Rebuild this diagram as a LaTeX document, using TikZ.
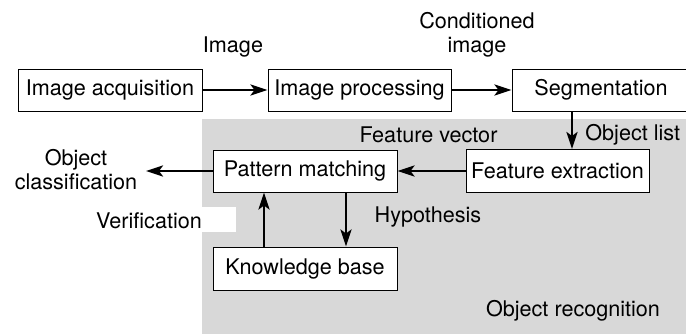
\documentclass[tikz,border=0pt]{standalone}
\usepackage{fontspec}
\setmainfont{TeX Gyre Heros}
\usetikzlibrary{arrows.meta}
\definecolor{greybg}{RGB}{216,216,216}
\begin{document}
\begin{tikzpicture}[x=0.5pt,y=-0.5pt,
  font=\fontsize{10.8}{12}\selectfont,
  box/.style={draw, line width=0.5pt, fill=white, inner sep=0pt, minimum height=21pt},
  arr/.style={line width=1.3pt, -{Stealth[length=8.5pt,width=5.5pt,inset=2pt]}},
  lbl/.style={inner sep=0pt, align=center}]
\useasboundingbox (0,0) rectangle (686,333);
\fill[greybg] (202,119) rectangle (690,340);
\fill[white] (88,207) rectangle (236,232);
\node[box, minimum width=92pt] (acq) at (110,90) {Image acquisition};
\node[box, minimum width=91.5pt] (proc) at (359.5,90) {Image processing};
\node[box, minimum width=89pt] (seg) at (601,90) {Segmentation};
\node[box, minimum width=91.5pt, minimum height=21.5pt] (feat) at (557.5,171) {Feature extraction};
\node[box, minimum width=92pt, minimum height=21pt] (pat) at (305,171) {Pattern matching};
\node[box, minimum width=92pt, minimum height=21.5pt] (kb) at (305,268.5) {Knowledge base};
\coordinate (sx) at (572,0);
\coordinate (vx) at (264,0);
\coordinate (hx) at (346,0);
\coordinate (oc) at (146,171);
\draw[arr] (acq.east) -- (proc.west);
\draw[arr] (proc.east) -- (seg.west);
\draw[arr] (seg.south -| sx) -- (feat.north -| sx);
\draw[arr] (feat.west) -- (pat.east);
\draw[arr] (pat.west) -- (oc);
\draw[arr] (kb.north -| vx) -- (pat.south -| vx);
\draw[arr] (pat.south -| hx) -- (kb.north -| hx);
\node[lbl] (limg) at (233,47) {Image};
\node[lbl] (lcond) at (477,35) {Conditioned\\image};
\node[lbl, anchor=west] (lobj) at (585,135) {Object list};
\node[lbl] (lfv) at (428.5,135) {Feature vector};
\node[lbl] (lclass) at (76,170) {Object\\classification};
\node[lbl] (lver) at (149,221) {Verification};
\node[lbl] (lhyp) at (428,217) {Hypothesis};
\node[lbl] (lrec) at (573,311) {Object recognition};
\end{tikzpicture}
\end{document}
